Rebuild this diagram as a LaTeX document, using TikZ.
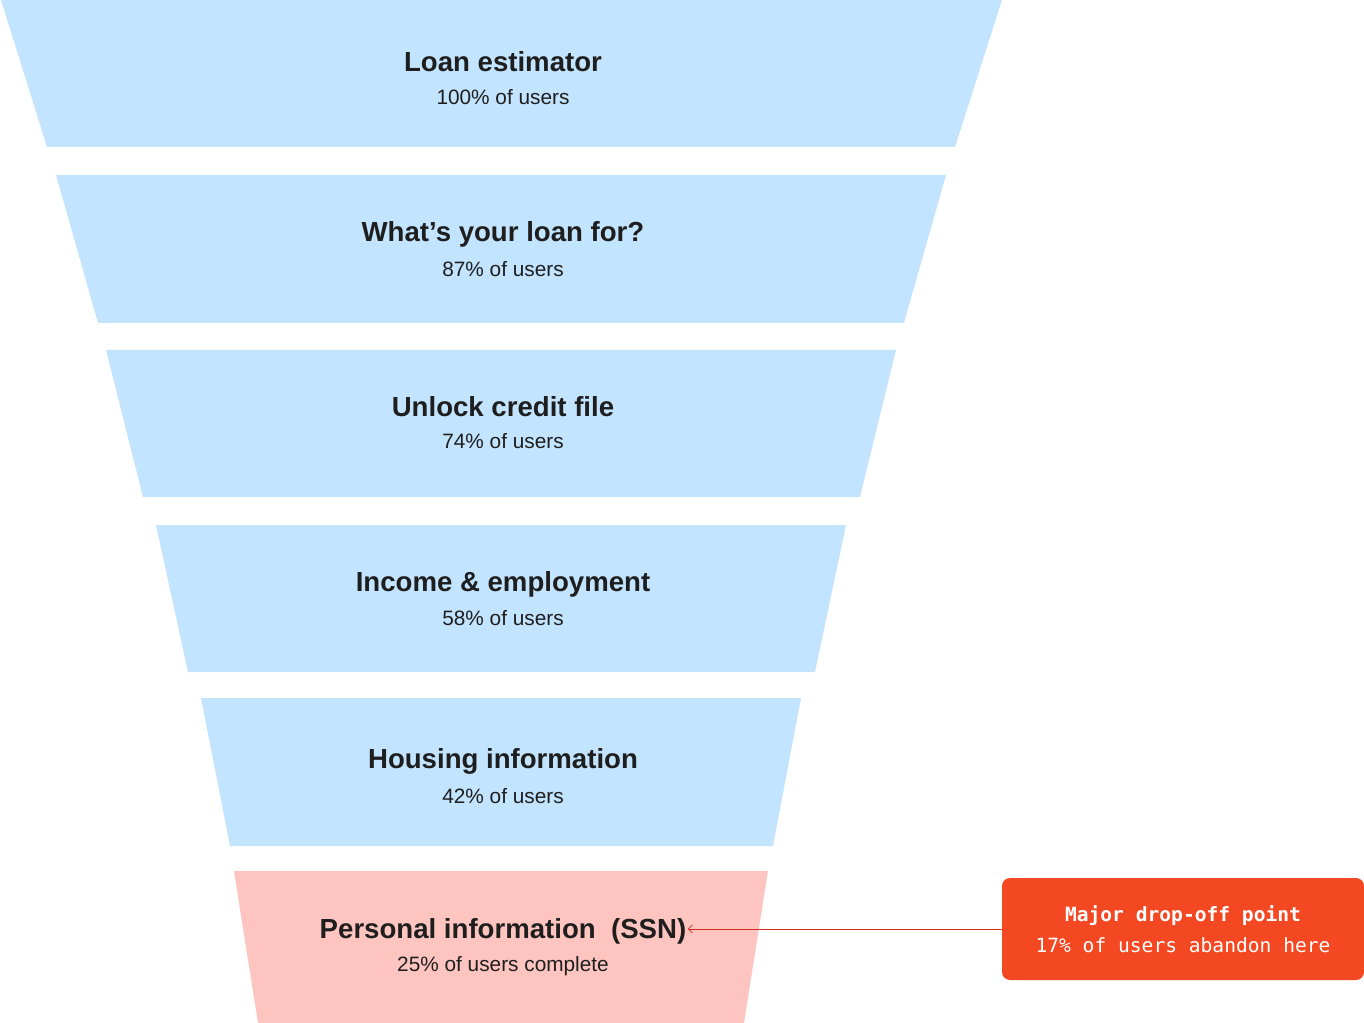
\documentclass[tikz,border=0pt]{standalone}
\usepackage{fontspec}
\setmainfont{Liberation Sans}
\newfontfamily\monofont{DejaVu Sans Mono}
\usetikzlibrary{arrows.meta}
\definecolor{stepblue}{RGB}{194,228,254}
\definecolor{steppink}{RGB}{254,197,192}
\definecolor{alertred}{RGB}{243,72,34}
\definecolor{arrowred}{RGB}{215,45,30}
\definecolor{inkdark}{RGB}{30,30,30}
\tikzset{
  stagetitle/.style={font=\fontsize{20.7}{24}\selectfont\bfseries, text=inkdark, inner sep=1pt},
  stagesub/.style={font=\fontsize{15.6}{18}\selectfont, text=inkdark, inner sep=1pt},
  callout/.style={fill=alertred, rounded corners=6pt, text=white, align=center, minimum width=271.5pt, minimum height=76.5pt, inner sep=0pt, font=\monofont\fontsize{14.7}{23.5}\selectfont},
  pointer/.style={draw=arrowred, line width=0.6pt, -{Straight Barb[length=3pt,width=6pt]}}
}
\begin{document}
\begin{tikzpicture}[x=0.75pt,y=-0.75pt]
\useasboundingbox (0,0) rectangle (1364,1023);
\fill[stepblue] (1,0) -- (1002,0) -- (955,147) -- (47,147) -- cycle;
\fill[stepblue] (56,175) -- (946,175) -- (904,323) -- (98,323) -- cycle;
\fill[stepblue] (106,350) -- (896,350) -- (860,497) -- (143,497) -- cycle;
\fill[stepblue] (156,525) -- (846,525) -- (815,672) -- (188,672) -- cycle;
\fill[stepblue] (201,698) -- (801,698) -- (773,846) -- (230,846) -- cycle;
\fill[steppink] (234,871) -- (768,871) -- (744,1023) -- (258,1023) -- cycle;

\node[stagetitle] (t1) at (503,62) {Loan estimator};
\node[stagesub] (s1) at (503,97) {100\% of users};
\node[stagetitle] (t2) at (503,234) {What’s your loan for?};
\node[stagesub] (s2) at (503,269) {87\% of users};
\node[stagetitle] (t3) at (503,407) {Unlock credit file};
\node[stagesub] (s3) at (503,441) {74\% of users};
\node[stagetitle] (t4) at (503,584) {Income \& employment};
\node[stagesub] (s4) at (503,618) {58\% of users};
\node[stagetitle] (t5) at (503,761) {Housing information};
\node[stagesub] (s5) at (503,796) {42\% of users};
\node[stagetitle] (t6) at (503,931) {Personal information\ \ (SSN)};
\node[stagesub] (s6) at (503,966) {25\% of users complete};

\node[callout] (c) at (1183,929) {{\bfseries Major drop-off point}\\17\% of users abandon here};
\draw[pointer] (c.west) -- (c.west -| t6.east);
\end{tikzpicture}
\end{document}
